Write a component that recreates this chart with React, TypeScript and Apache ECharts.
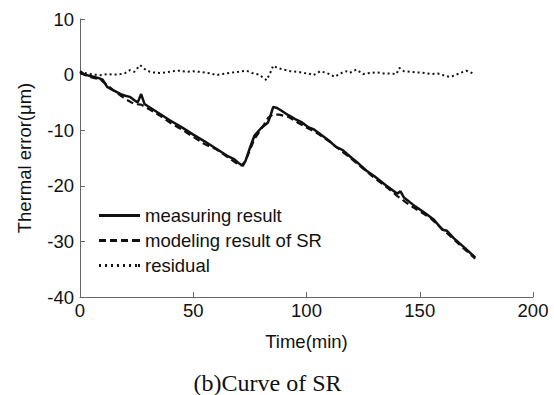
import React, { useEffect, useRef } from "react";
import * as echarts from "echarts";

const measuredT = [0, 2, 5, 8, 10, 12, 15, 18, 20, 22, 24, 25.5, 27, 28.5, 30, 35, 40, 45, 50, 55, 60, 65, 68, 70, 71.5, 73, 75, 77, 80, 83, 84, 85.3, 87, 89, 92, 95, 98, 101, 103, 106, 110, 113, 116, 120, 123, 126.5, 130, 135, 140, 141.5, 143, 148, 152, 156, 160, 162, 165, 170, 174.5];
const measuredV = [0.6, 0.0, -0.3, -0.6, -0.9, -2.2, -2.9, -3.5, -3.8, -4.0, -4.6, -5.0, -3.5, -5.3, -5.7, -7.0, -8.3, -9.5, -10.8, -12.0, -13.3, -14.6, -15.2, -15.9, -16.3, -15.6, -13.2, -11.0, -9.6, -8.6, -7.5, -5.8, -6.0, -6.5, -7.3, -8.0, -8.6, -9.5, -9.8, -10.7, -11.9, -13.0, -13.6, -15.0, -16.0, -17.3, -18.3, -19.9, -21.4, -21.0, -22.1, -23.7, -24.8, -26.0, -27.9, -28.1, -29.4, -31.2, -32.9];

const modelT = [0, 3, 6, 9, 12, 15, 18, 21, 24, 27, 30, 35, 40, 45, 50, 55, 60, 65, 70, 72, 74, 77, 80, 83, 85, 88, 92, 96, 100, 105, 110, 115, 120, 125, 130, 135, 140, 145, 150, 155, 160, 165, 170, 174.5];
const modelV = [0.3, -0.2, -0.6, -0.9, -1.9, -2.9, -3.8, -4.6, -5.3, -5.4, -6.1, -7.3, -8.7, -9.9, -11.2, -12.5, -13.4, -14.8, -16.2, -16.4, -14.6, -11.6, -9.8, -7.8, -7.2, -7.2, -7.6, -8.6, -9.5, -10.6, -12.0, -13.6, -15.2, -16.9, -18.6, -20.1, -21.8, -23.3, -24.6, -25.9, -27.8, -29.6, -31.5, -33.1];

const residT = [0, 3, 6, 9, 12, 15, 18, 20, 22, 24, 26.5, 28, 29.5, 32, 35, 38, 41, 44, 47, 50, 53, 56, 58, 60, 63, 66, 70, 73.5, 76, 79, 82.4, 84, 85.3, 87, 90, 93, 96, 99, 101, 103, 104.5, 106, 108, 110, 112.5, 114, 116, 117.6, 119, 122, 125, 128, 131, 134, 137, 139.7, 141, 143, 146, 149, 152, 155, 158, 161, 163, 165, 168, 170.5, 172, 174];
const residV = [0.5, 0.2, 0.0, -0.1, 0.1, 0.0, 0.1, 0.3, 0.8, 0.5, 1.7, 1.2, 0.7, 0.4, 0.3, 0.4, 0.6, 0.7, 0.5, 0.6, 0.5, 0.3, 0.2, -0.1, 0.1, 0.3, 0.5, 0.7, 0.3, 0.0, -1.0, 0.3, 1.6, 1.2, 0.9, 0.6, 0.5, 0.3, 0.2, -0.1, 0.2, 0.6, 0.4, 0.1, -0.4, 0.0, 0.4, 0.6, 0.3, 0.9, 0.1, 0.3, 0.4, 0.2, 0.2, 0.1, 1.2, 0.6, 0.5, 0.4, 0.3, 0.1, 0.2, -0.2, -0.4, -0.2, 0.3, 0.7, 0.5, 0.1];

const xTicks = { min: 0, max: 200, interval: 50 };
const yTicks = { min: -40, max: 10, interval: 10 };

const seriesNames = ["measuring result", "modeling result of SR", "residual"];
const caption = "(b)Curve of SR";

const pair = (t: number[], v: number[]) => t.map((x, i) => [x, v[i]]);

const iconSolid = "path://M0,0H41V3H0Z";
const iconDashed = "path://M0,0H7V3H0ZM11,0H18V3H11ZM22,0H29V3H22ZM33,0H41V3H33Z";
const iconDotted = "path://M0,0H2V3H0ZM6,0H8V3H6ZM12,0H14V3H12ZM18,0H20V3H18ZM24,0H26V3H24ZM30,0H32V3H30ZM36,0H38V3H36ZM39,0H41V3H39Z";

export default function App() {
  const ref = useRef<HTMLDivElement>(null);
  useEffect(() => {
    if (!ref.current) return;
    const chart = echarts.init(ref.current, null, { renderer: "svg" });
    const font = "Liberation Sans, Arial, sans-serif";
    const axisColor = "#666";
    chart.setOption({
      animation: false,
      backgroundColor: "#fff",
      grid: { left: 80, right: 21, top: 19, bottom: 98 },
      xAxis: {
        type: "value",
        min: xTicks.min,
        max: xTicks.max,
        interval: xTicks.interval,
        name: "Time(min)",
        nameLocation: "middle",
        nameGap: 35,
        nameTextStyle: { color: "#111", fontSize: 18.5, fontFamily: font },
        axisLine: { show: true, onZero: false, lineStyle: { color: axisColor, width: 1 } },
        axisTick: { show: true, inside: true, length: 5, lineStyle: { color: axisColor } },
        axisLabel: { color: "#111", fontSize: 18.5, fontFamily: font, margin: 4 },
        splitLine: { show: false },
      },
      yAxis: {
        type: "value",
        min: yTicks.min,
        max: yTicks.max,
        interval: yTicks.interval,
        name: "Thermal error(μm)",
        nameLocation: "middle",
        nameGap: 46,
        nameTextStyle: { color: "#111", fontSize: 18.5, fontFamily: font },
        axisLine: { show: true, onZero: false, lineStyle: { color: axisColor, width: 1 } },
        axisTick: { show: true, inside: true, length: 5, lineStyle: { color: axisColor } },
        axisLabel: { color: "#111", fontSize: 18.5, fontFamily: font, margin: 6 },
        splitLine: { show: false },
      },
      legend: {
        orient: "vertical",
        left: 94,
        top: 201,
        itemWidth: 41,
        itemHeight: 3,
        itemGap: 6,
        textStyle: { color: "#111", fontSize: 18.5, lineHeight: 19, fontFamily: font },
        data: [
          { name: seriesNames[0], icon: iconSolid },
          { name: seriesNames[1], icon: iconDashed },
          { name: seriesNames[2], icon: iconDotted },
        ],
      },
      series: [
        {
          name: seriesNames[0],
          type: "line",
          data: pair(measuredT, measuredV),
          symbol: "none",
          lineStyle: { color: "#111", width: 2.5, type: "solid" },
          itemStyle: { color: "#111" },
          z: 3,
        },
        {
          name: seriesNames[1],
          type: "line",
          data: pair(modelT, modelV),
          symbol: "none",
          lineStyle: { color: "#111", width: 2.2, type: [7, 4] },
          itemStyle: { color: "#111" },
          z: 2,
        },
        {
          name: seriesNames[2],
          type: "line",
          data: pair(residT, residV),
          symbol: "none",
          lineStyle: { color: "#111", width: 2, type: [2, 3] },
          itemStyle: { color: "#111" },
          z: 1,
        },
      ],
      graphic: [
        {
          type: "text",
          x: 267.5,
          y: 383,
          style: {
            text: caption,
            fill: "#111",
            fontSize: 24,
            fontFamily: "Liberation Serif, Times New Roman, serif",
            textAlign: "center",
            textVerticalAlign: "middle",
          },
        },
      ],
    });
    return () => chart.dispose();
  }, []);
  return <div ref={ref} style={{ width: 554, height: 395, position: "absolute", left: 0, top: 0 }} />;
}
